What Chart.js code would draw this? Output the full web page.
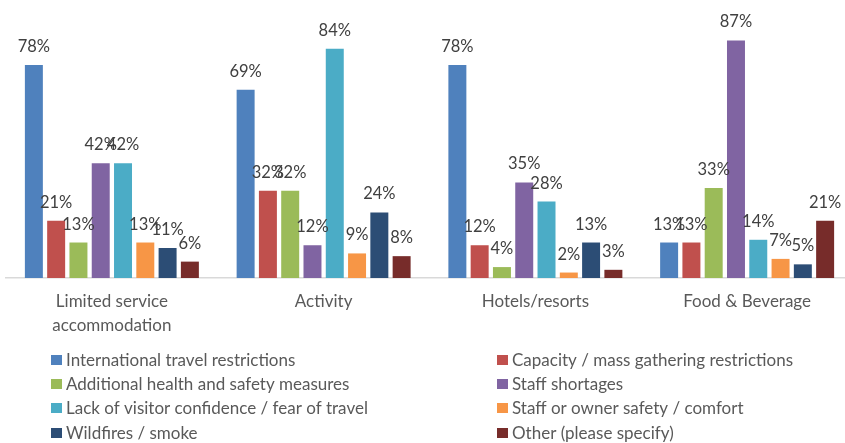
<!DOCTYPE html>
<html>
<head>
<meta charset="utf-8">
<script src="https://cdn.jsdelivr.net/npm/chart.js@4/dist/chart.umd.min.js"></script>
<style>
  html, body { margin: 0; padding: 0; background: #fff; overflow: hidden; }
  #wrap { width: 860px; height: 443px; }
</style>
</head>
<body>
<div id="wrap"><canvas id="chart"></canvas></div>
<script>
const categories = [["Limited service", "accommodation"], "Activity", "Hotels/resorts", "Food & Beverage"];

const seriesNames = [
  "International travel restrictions",
  "Capacity / mass gathering restrictions",
  "Additional health and safety measures",
  "Staff shortages",
  "Lack of visitor confidence / fear of travel",
  "Staff or owner safety / comfort",
  "Wildfires / smoke",
  "Other (please specify)",
];

const intlTravel = [78, 69, 78, 13];
const capacity = [21, 32, 12, 13];
const healthSafety = [13, 32, 4, 33];
const staffShortages = [42, 12, 35, 87];
const visitorConfidence = [42, 84, 28, 14];
const ownerSafety = [13, 9, 2, 7];
const wildfires = [11, 24, 13, 5];
const other = [6, 8, 3, 21];

const seriesValues = [intlTravel, capacity, healthSafety, staffShortages, visitorConfidence, ownerSafety, wildfires, other];
const colors = ["#4F81BD", "#C0504D", "#9BBB59", "#8064A2", "#4BACC6", "#F79646", "#2C4D75", "#772C2A"];

const FONT = "Lato, 'Open Sans', sans-serif";

// value labels above the bars
const barLabels = {
  id: "barLabels",
  afterDatasetsDraw(chart) {
    const ctx = chart.ctx;
    ctx.save();
    ctx.font = "16.5px " + FONT;
    ctx.fillStyle = "#404040";
    ctx.textAlign = "center";
    ctx.textBaseline = "alphabetic";
    chart.data.datasets.forEach((ds, i) => {
      chart.getDatasetMeta(i).data.forEach((bar, j) => {
        ctx.fillText(ds.data[j] + "%", bar.x, bar.y - 13);
      });
    });
    ctx.restore();
  },
};

// two column legend under the axis
const sideLegend = {
  id: "sideLegend",
  afterDraw(chart) {
    const ctx = chart.ctx;
    const colX = [51, 497];
    const rowY = [360, 384, 408, 433];
    ctx.save();
    ctx.font = "17px " + FONT;
    ctx.textBaseline = "middle";
    ctx.textAlign = "left";
    chart.data.datasets.forEach((ds, i) => {
      const x = colX[i % 2];
      const y = rowY[Math.floor(i / 2)];
      ctx.fillStyle = ds.backgroundColor;
      ctx.fillRect(x, y - 5, 11, 10);
      ctx.fillStyle = "#595959";
      ctx.fillText(ds.label, x + 15, y + 1);
    });
    ctx.restore();
  },
};

new Chart(document.getElementById("chart"), {
  type: "bar",
  data: {
    labels: categories,
    datasets: seriesNames.map((name, i) => ({
      label: name,
      data: seriesValues[i],
      backgroundColor: colors[i],
      borderWidth: 0,
      barPercentage: 0.807,
      categoryPercentage: 0.842,
    })),
  },
  options: {
    responsive: true,
    maintainAspectRatio: false,
    animation: false,
    layout: { padding: { top: 5, left: 6, right: 7, bottom: 0 } },
    plugins: {
      legend: { display: false },
      tooltip: { enabled: false },
    },
    scales: {
      x: {
        grid: { display: false, drawTicks: false },
        border: { display: true, color: "#D9D9D9", width: 1.5 },
        ticks: {
          color: "#595959",
          font: { family: FONT, size: 17, lineHeight: 1.38 },
          padding: 12,
          maxRotation: 0,
          autoSkip: false,
        },
        afterFit(scale) { scale.height = 165; },
      },
      y: {
        display: false,
        min: 0,
        max: 100,
      },
    },
  },
  plugins: [barLabels, sideLegend],
});
</script>
</body>
</html>
